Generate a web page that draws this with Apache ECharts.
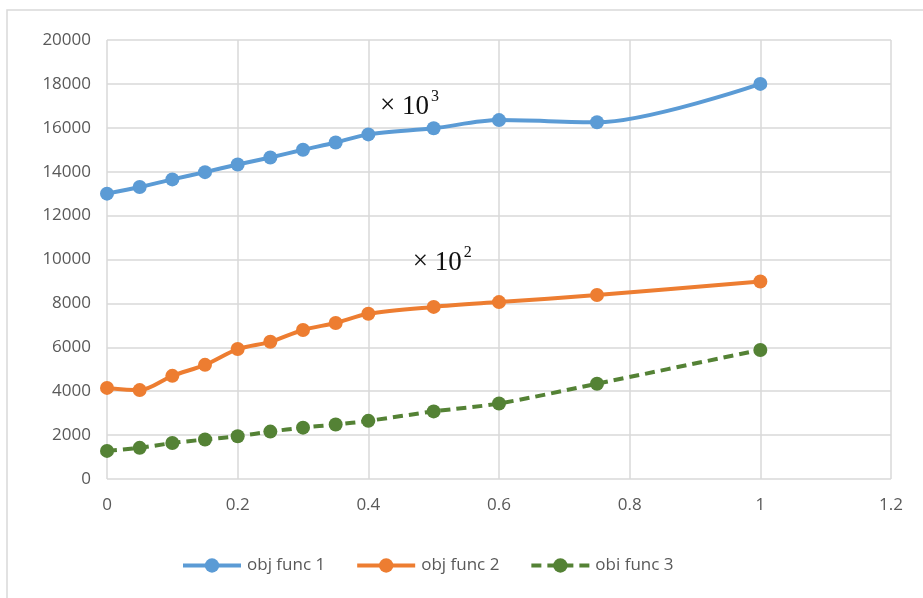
<!DOCTYPE html>
<html>
<head>
<meta charset="utf-8">
<script src="https://cdn.jsdelivr.net/npm/echarts@6/dist/echarts.min.js"></script>
<style>
  html, body { margin: 0; padding: 0; background: #fff; }
  #chart { width: 923px; height: 598px; }
</style>
</head>
<body>
<div id="chart"></div>
<script>
// Sample positions along the x axis
const xValues = [0, 0.05, 0.1, 0.15, 0.2, 0.25, 0.3, 0.35, 0.4, 0.5, 0.6, 0.75, 1];

// Objective function values at each position
const objFunc1 = [13000, 13300, 13650, 13980, 14330, 14650, 15000, 15330, 15700, 15980, 16350, 16250, 18000];
const objFunc2 = [4150, 4050, 4700, 5200, 5920, 6250, 6790, 7110, 7530, 7840, 8060, 8380, 9000];
const objFunc3 = [1280, 1420, 1640, 1800, 1950, 2160, 2340, 2480, 2650, 3080, 3440, 4340, 5880];

const seriesNames = ['obj func 1', 'obj func 2', 'obi func 3'];
const seriesColors = ['#5b9bd5', '#ed7d31', '#548235'];

// Scale notes: exponent and anchor (left edge, vertical centre) in data units
const scaleNotes = [
  { exp: '3', x: 0.418, y: 17000 },
  { exp: '2', x: 0.468, y: 9880 }
];

const toPairs = vals => xValues.map((x, i) => [x, vals[i]]);

const chart = echarts.init(document.getElementById('chart'), null, { renderer: 'canvas' });

const fontFamily = '"Open Sans", "Liberation Sans", sans-serif';
const gridColor = '#d9d9d9';

function makeSeries(idx, vals, dashed) {
  return {
    name: seriesNames[idx],
    type: 'line',
    data: toPairs(vals),
    smooth: 0.3,
    symbol: 'circle',
    symbolSize: 14,
    lineStyle: { width: 4, color: seriesColors[idx], type: dashed ? [10, 6] : 'solid' },
    itemStyle: { color: seriesColors[idx] },
    emphasis: { disabled: true },
    z: 3
  };
}

chart.setOption({
  animation: false,
  backgroundColor: '#fff',
  grid: { left: 107, right: 32, top: 40, bottom: 119, containLabel: false },
  xAxis: {
    type: 'value',
    min: 0,
    max: 1.2,
    interval: 0.2,
    axisLine: { show: false },
    axisTick: { show: false },
    splitLine: { show: true, lineStyle: { color: gridColor, width: 1.5 } },
    axisLabel: { color: '#595959', fontFamily, fontSize: 17, margin: 18, formatter: v => String(v) }
  },
  yAxis: {
    type: 'value',
    min: 0,
    max: 20000,
    interval: 2000,
    axisLine: { show: false },
    axisTick: { show: false },
    splitLine: { show: true, lineStyle: { color: gridColor, width: 1.5 } },
    axisLabel: { color: '#595959', fontFamily, fontSize: 17, margin: 16, formatter: v => String(v) }
  },
  legend: {
    bottom: 24,
    left: 181,
    padding: 0,
    itemWidth: 58,
    itemHeight: 18,
    itemGap: 30,
    lineStyle: { width: 4 },
    textStyle: { color: '#595959', fontFamily, fontSize: 17, padding: [0, 0, 0, 1] },
    data: seriesNames
  },
  series: [
    makeSeries(0, objFunc1, false),
    makeSeries(1, objFunc2, false),
    makeSeries(2, objFunc3, true)
  ]
});

// Outer frame and the scale notes, placed from data coordinates
function drawExtras() {
  const serif = '"Liberation Serif", "DejaVu Serif", serif';
  const elements = [
    {
      type: 'rect',
      shape: { x: 7, y: 10, width: 930, height: 600 },
      style: { fill: 'none', stroke: '#d9d9d9', lineWidth: 1.5 },
      silent: true
    }
  ];
  const txt = (x, y, text, font) => ({
    type: 'text',
    x, y,
    style: { text, font, fill: '#111', verticalAlign: 'middle', align: 'left' },
    z: 10,
    silent: true
  });
  scaleNotes.forEach(n => {
    const p = chart.convertToPixel({ gridIndex: 0 }, [n.x, n.y]);
    elements.push(txt(p[0], p[1], '×', '27px ' + serif));
    elements.push(txt(p[0] + 22, p[1] + 1, '10', '27px ' + serif));
    elements.push(txt(p[0] + 51, p[1] - 9, n.exp, '16px ' + serif));
  });
  chart.setOption({ graphic: elements });
}
drawExtras();
</script>
</body>
</html>
